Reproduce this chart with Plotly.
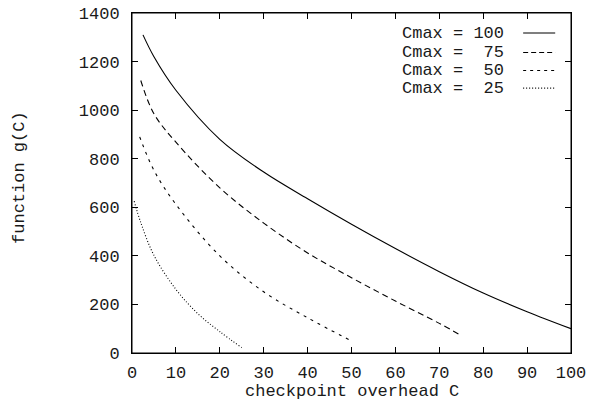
import plotly.graph_objects as go

# ---- data ----
c100_x = [2.5, 5, 10, 20, 30, 40, 50, 60, 70, 80, 90, 100]
c100_y = [1310, 1220, 1082, 880, 745, 635, 530, 430, 335, 247, 170, 100]

c75_x = [2, 5, 10, 20, 30, 40, 50, 60, 70, 75]
c75_y = [1122, 985, 868, 680, 535, 412, 310, 214, 122, 72]

c50_x = [1.75, 5, 10, 20, 30, 40, 50]
c50_y = [890, 752, 612, 400, 252, 145, 50]

c25_x = [0.5, 2, 5, 10, 15, 20, 25]
c25_y = [625, 537, 402, 262, 162, 88, 22]

names = ["Cmax = 100", "Cmax =  75", "Cmax =  50", "Cmax =  25"]
dashes = ["solid", "6px,4px", "3px,5px", "1px,2px"]
legend_dashes = ["solid", "5px,3px", "3px,4px", "1px,2px"]

x_ticks = [0, 10, 20, 30, 40, 50, 60, 70, 80, 90, 100]
y_ticks = [0, 200, 400, 600, 800, 1000, 1200, 1400]

FONT = "Liberation Mono"
FS = 17
TXT = "#1a1a1a"

fig = go.Figure()
for (xs, ys), d in zip([(c100_x, c100_y), (c75_x, c75_y), (c50_x, c50_y), (c25_x, c25_y)], dashes):
    fig.add_trace(go.Scatter(x=xs, y=ys, mode="lines",
                             line=dict(color="black", width=1.1, dash=d, shape="spline", smoothing=1.0),
                             showlegend=False, hoverinfo="skip"))

# gnuplot-style key: text right-aligned, line sample to the right
row_y = [0.941, 0.884, 0.831, 0.779]
for name, d, yy in zip(names, legend_dashes, row_y):
    fig.add_annotation(x=0.853, y=yy, xref="paper", yref="paper", text=name.replace(" ", "\u00a0"),
                       showarrow=False, xanchor="right", yanchor="middle",
                       font=dict(family=FONT, size=FS, color=TXT))
    fig.add_shape(type="line", xref="paper", yref="paper", x0=0.891, x1=0.964, y0=yy, y1=yy,
                  line=dict(color="black", width=1.1, dash=d))

# plot frame (gnuplot border)
fig.add_shape(type="rect", xref="paper", yref="paper", x0=0, x1=1, y0=0, y1=1,
              line=dict(color="black", width=1), layer="above")

# axis titles
fig.add_annotation(x=0.5, y=-0.112, xref="paper", yref="paper", text="checkpoint overhead C",
                   showarrow=False, xanchor="center", yanchor="middle",
                   font=dict(family=FONT, size=FS, color=TXT))
fig.add_annotation(x=-0.255, y=0.515, xref="paper", yref="paper", text="function g(C)",
                   showarrow=False, xanchor="center", yanchor="middle", textangle=-90,
                   font=dict(family=FONT, size=FS, color=TXT))

axis_common = dict(showline=True, linecolor="black", linewidth=1, mirror="ticks",
                   ticks="inside", ticklen=6, tickcolor="black", tickwidth=1,
                   showgrid=False, zeroline=False, automargin=False,
                   ticklabeloverflow="allow",
                   tickfont=dict(family=FONT, size=FS, color=TXT))

fig.update_xaxes(range=[0, 100], tickvals=x_ticks, ticktext=[str(v) for v in x_ticks],
                 ticklabelstandoff=4, **axis_common)
fig.update_yaxes(range=[0, 1400], tickvals=y_ticks, ticktext=[str(v) for v in y_ticks],
                 ticklabelstandoff=8, **axis_common)

fig.update_layout(width=598, height=406, margin=dict(l=132, r=27, t=13, b=53),
                  plot_bgcolor="white", paper_bgcolor="white",
                  font=dict(family=FONT, size=FS, color=TXT))

# remove the default 8px page margin so the figure sits at the window's top-left corner
fig.write_html("out.html", config={"displayModeBar": False},
               post_script="document.body.style.margin='0px';")
